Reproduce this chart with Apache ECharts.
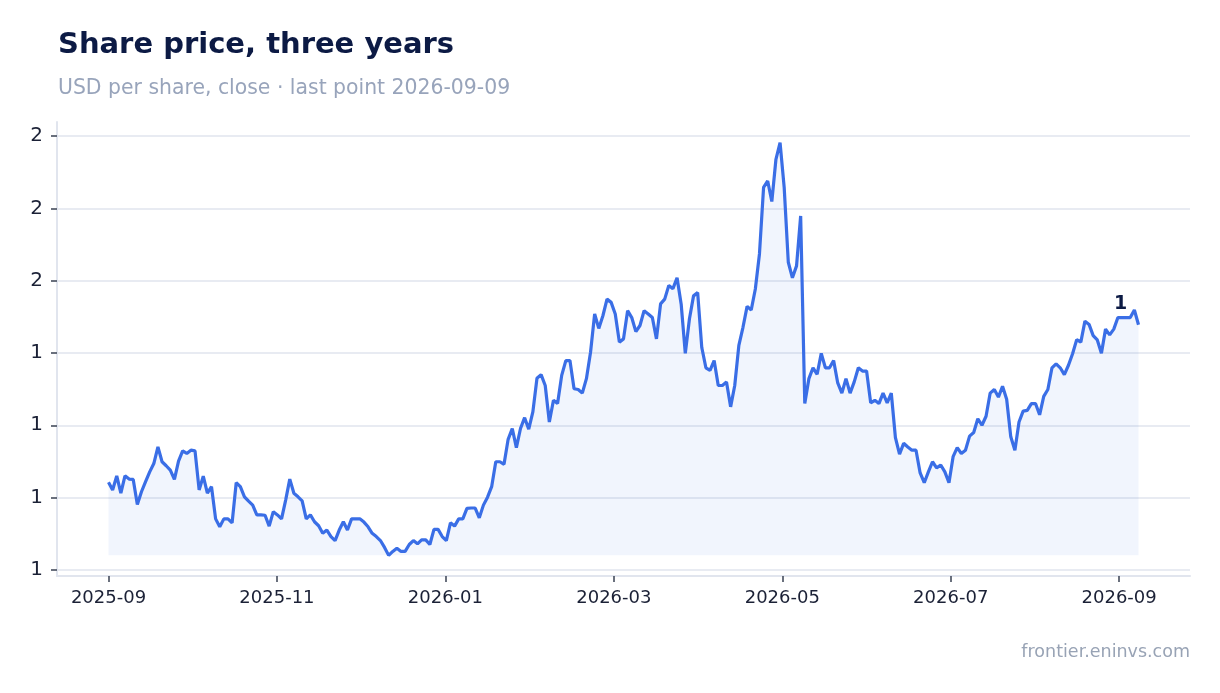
<!DOCTYPE html>
<html>
<head>
<meta charset="utf-8">
<script src="https://cdn.jsdelivr.net/npm/echarts@6/dist/echarts.min.js"></script>
<style>
  html, body { margin: 0; padding: 0; background: #ffffff; }
  #main { width: 1220px; height: 693px; }
</style>
</head>
<body>
<div id="main"></div>
<script>
// share price, one value per trading point
const firstDay = "2025-09-01";
const lastDay = "2026-09-09";
const prices = [
  1.042, 1.021, 1.060, 1.012, 1.060, 1.051, 1.050, 0.981, 1.016, 1.044,
  1.071, 1.094, 1.140, 1.099, 1.088, 1.076, 1.050, 1.101, 1.129, 1.122,
  1.131, 1.129, 1.021, 1.059, 1.012, 1.030, 0.941, 0.919, 0.941, 0.941,
  0.930, 1.041, 1.030, 1.002, 0.990, 0.979, 0.952, 0.952, 0.951, 0.921,
  0.961, 0.952, 0.941, 0.993, 1.051, 1.012, 1.002, 0.991, 0.941, 0.952,
  0.933, 0.922, 0.901, 0.910, 0.892, 0.881, 0.910, 0.933, 0.910, 0.941,
  0.941, 0.941, 0.932, 0.919, 0.901, 0.892, 0.881, 0.862, 0.840, 0.851,
  0.860, 0.851, 0.851, 0.870, 0.881, 0.872, 0.883, 0.883, 0.870, 0.912,
  0.912, 0.892, 0.881, 0.930, 0.921, 0.941, 0.941, 0.970, 0.971, 0.971,
  0.944, 0.979, 1.001, 1.030, 1.099, 1.099, 1.092, 1.161, 1.191, 1.138,
  1.191, 1.221, 1.189, 1.237, 1.330, 1.340, 1.310, 1.209, 1.269, 1.260,
  1.338, 1.379, 1.379, 1.301, 1.299, 1.289, 1.329, 1.402, 1.508, 1.468,
  1.503, 1.549, 1.540, 1.508, 1.430, 1.439, 1.517, 1.498, 1.459, 1.476,
  1.517, 1.508, 1.498, 1.439, 1.536, 1.549, 1.587, 1.578, 1.608, 1.535,
  1.399, 1.494, 1.558, 1.567, 1.415, 1.359, 1.352, 1.379, 1.310, 1.310,
  1.320, 1.251, 1.310, 1.421, 1.471, 1.529, 1.519, 1.577, 1.674, 1.858,
  1.876, 1.819, 1.936, 1.982, 1.858, 1.651, 1.608, 1.641, 1.779, 1.260,
  1.329, 1.359, 1.341, 1.399, 1.359, 1.359, 1.379, 1.317, 1.289, 1.329,
  1.289, 1.320, 1.359, 1.350, 1.350, 1.262, 1.269, 1.260, 1.289, 1.262,
  1.289, 1.166, 1.120, 1.150, 1.140, 1.131, 1.131, 1.068, 1.041, 1.071,
  1.099, 1.082, 1.090, 1.071, 1.041, 1.113, 1.138, 1.122, 1.131, 1.170,
  1.180, 1.218, 1.200, 1.225, 1.289, 1.299, 1.278, 1.308, 1.272, 1.168,
  1.131, 1.209, 1.239, 1.241, 1.260, 1.260, 1.229, 1.280, 1.299, 1.359,
  1.370, 1.359, 1.340, 1.366, 1.398, 1.437, 1.430, 1.488, 1.479, 1.448,
  1.436, 1.399, 1.466, 1.450, 1.466, 1.498, 1.498, 1.498, 1.498, 1.519,
  1.478
];
// tick labels
const xTickDays = ["2025-09-01", "2025-11-01", "2026-01-01", "2026-03-03", "2026-05-03", "2026-07-03", "2026-09-02"];
const yTicks = [0.8, 1.0, 1.2, 1.4, 1.6, 1.8, 2.0];

const toTs = s => Date.parse(s + "T00:00:00Z");
const t0 = toTs(firstDay), t1 = toTs(lastDay);
const step = (t1 - t0) / (prices.length - 1);
const seriesData = prices.map((v, i) => [t0 + i * step, v]);
const xTicks = xTickDays.map(toTs);

const pMin = Math.min(...prices), pMax = Math.max(...prices);
const yPad = (pMax - pMin) * 0.05, xPad = (t1 - t0) * 0.05;

const pad2 = n => (n < 10 ? "0" : "") + n;
const ym = v => { const d = new Date(v); return d.getUTCFullYear() + "-" + pad2(d.getUTCMonth() + 1); };

const font = "DejaVu Sans";
const chart = echarts.init(document.getElementById("main"));
chart.setOption({
  backgroundColor: "#ffffff",
  animation: false,
  title: [
    { text: "Share price, three years", left: 58, top: 31, padding: 0,
      textStyle: { fontFamily: font, fontSize: 29, fontWeight: "bold", color: "#0c1a44" } },
    { text: "USD per share, close · last point " + lastDay, left: 58, top: 79, padding: 0,
      textStyle: { fontFamily: font, fontSize: 20.4, fontWeight: "normal", color: "#98a4bb" } },
    { text: "frontier.eninvs.com", right: 30, bottom: 32, padding: 0,
      textStyle: { fontFamily: font, fontSize: 17.5, fontWeight: "normal", color: "#98a3b5" } }
  ],
  grid: { left: 57, right: 30, top: 122, bottom: 117 },
  xAxis: {
    type: "value",
    min: t0 - xPad,
    max: t1 + xPad,
    axisLine: { show: true, lineStyle: { color: "#e1e5ee", width: 2 } },
    axisTick: { show: true, customValues: xTicks, length: 6, lineStyle: { color: "#3a4153", width: 1.5 } },
    axisLabel: { customValues: xTicks, formatter: ym, fontFamily: font, fontSize: 18, color: "#1b2136", margin: 13 },
    splitLine: { show: false }
  },
  yAxis: {
    type: "value",
    min: pMin - yPad,
    max: pMax + yPad,
    axisLine: { show: true, lineStyle: { color: "#e1e5ee", width: 2 } },
    axisTick: { show: true, customValues: yTicks, length: 6, lineStyle: { color: "#3a4153", width: 1.5 } },
    axisLabel: { customValues: yTicks, formatter: v => String(Math.round(v)), fontFamily: font, fontSize: 20, color: "#1b2136", margin: 14 },
    splitLine: { show: true, lineStyle: { color: "#e0e5ee", width: 1.5 } }
  },
  series: [{
    type: "line",
    data: seriesData,
    showSymbol: false,
    lineStyle: { color: "#3a6ee6", width: 3.2 },
    itemStyle: { color: "#3a6ee6" },
    areaStyle: { color: "rgba(58,110,230,0.1)", origin: pMin },
    endLabel: {
      show: true,
      formatter: p => String(Math.round(p.value[1])),
      fontFamily: font, fontSize: 19, fontWeight: "bold", color: "#0c1a44",
      align: "center", verticalAlign: "middle", distance: 0, offset: [-18, -21]
    }
  }]
});
</script>
</body>
</html>
